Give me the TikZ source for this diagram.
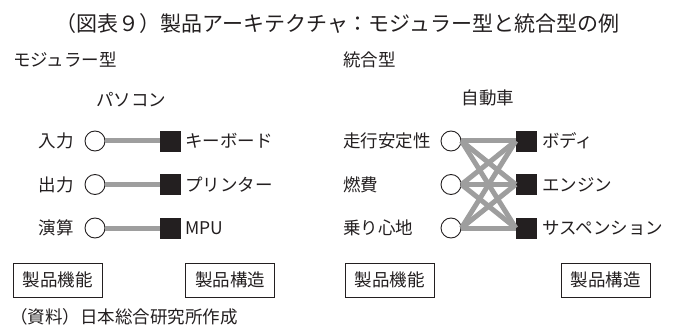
\documentclass[tikz,border=0pt]{standalone}
\usepackage{fontspec}
\setmainfont{Noto Sans CJK JP}
\definecolor{conngray}{RGB}{158,158,158}
\definecolor{inkdark}{RGB}{35,31,32}
\tikzset{
  txt/.style={inner sep=0pt, text=inkdark, font=\fontsize{17.5}{20}\selectfont},
  func/.style={circle, draw=inkdark, line width=0.9pt, fill=white, minimum size=20pt, inner sep=0pt},
  part/.style={rectangle, draw=inkdark, fill=inkdark, minimum size=20pt, inner sep=0pt},
  conn/.style={draw=conngray, line width=5pt},
  legendbox/.style={rectangle, draw=inkdark, line width=0.8pt, minimum width=89pt, minimum height=34pt, inner sep=0pt, text=inkdark, font=\fontsize{17.5}{20}\selectfont}
}
\begin{document}
\begin{tikzpicture}[x=1pt,y=-1pt]
\useasboundingbox (0,0) rectangle (677,331);
% title
\node[inner sep=0pt, text=inkdark, font=\fontsize{21}{24}\selectfont] (title) at (337.5,24) {（図表９）製品アーキテクチャ：モジュラー型と統合型の例};
% section labels
\node[txt, anchor=west] (modl) at (13,60) {モジュラー型};
\node[txt, anchor=west] (intl) at (343,60) {統合型};
\node[txt] (pc) at (131,100) {パソコン};
\node[txt] (car) at (488,98) {自動車};
% left (modular)
\node[txt, anchor=east] (lf1) at (74,141) {入力};
\node[txt, anchor=east] (lf2) at (74,184.5) {出力};
\node[txt, anchor=east] (lf3) at (74,228) {演算};
\node[func] (lc1) at (95,141) {};
\node[func] (lc2) at (95,184.5) {};
\node[func] (lc3) at (95,228) {};
\node[part] (ls1) at (170,141) {};
\node[part] (ls2) at (170,184.5) {};
\node[part] (ls3) at (170,228) {};
\node[txt, anchor=west] (lp1) at (185,141) {キーボード};
\node[txt, anchor=west] (lp2) at (185,184.5) {プリンター};
\node[txt, anchor=west] (lp3) at (185,228) {MPU};
\draw[conn] (lc1.east) -- (ls1.west);
\draw[conn] (lc2.east) -- (ls2.west);
\draw[conn] (lc3.east) -- (ls3.west);
% right (integral)
\node[txt, anchor=west] (rf1) at (343,141) {走行安定性};
\node[txt, anchor=west] (rf2) at (343,184.5) {燃費};
\node[txt, anchor=west] (rf3) at (343,228) {乗り心地};
\node[func] (rc1) at (451,141) {};
\node[func] (rc2) at (451,184.5) {};
\node[func] (rc3) at (451,228) {};
\node[part] (rs1) at (526,141) {};
\node[part] (rs2) at (526,184.5) {};
\node[part] (rs3) at (526,228) {};
\node[txt, anchor=west] (rp1) at (542,141) {ボディ};
\node[txt, anchor=west] (rp2) at (542,184.5) {エンジン};
\node[txt, anchor=west] (rp3) at (542,228) {サスペンション};
\foreach \i in {1,2,3}{
  \foreach \j in {1,2,3}{
    \draw[conn] (rc\i.east) -- (rs\j.west);
  }
}
% legend boxes
\node[legendbox] (lb1) at (57.5,280) {製品機能};
\node[legendbox] (lb2) at (230,280) {製品構造};
\node[legendbox] (rb1) at (389.5,280) {製品機能};
\node[legendbox] (rb2) at (605.5,280) {製品構造};
% source
\node[txt, anchor=west] (src) at (10,317) {（資料）日本総合研究所作成};
\end{tikzpicture}
\end{document}
